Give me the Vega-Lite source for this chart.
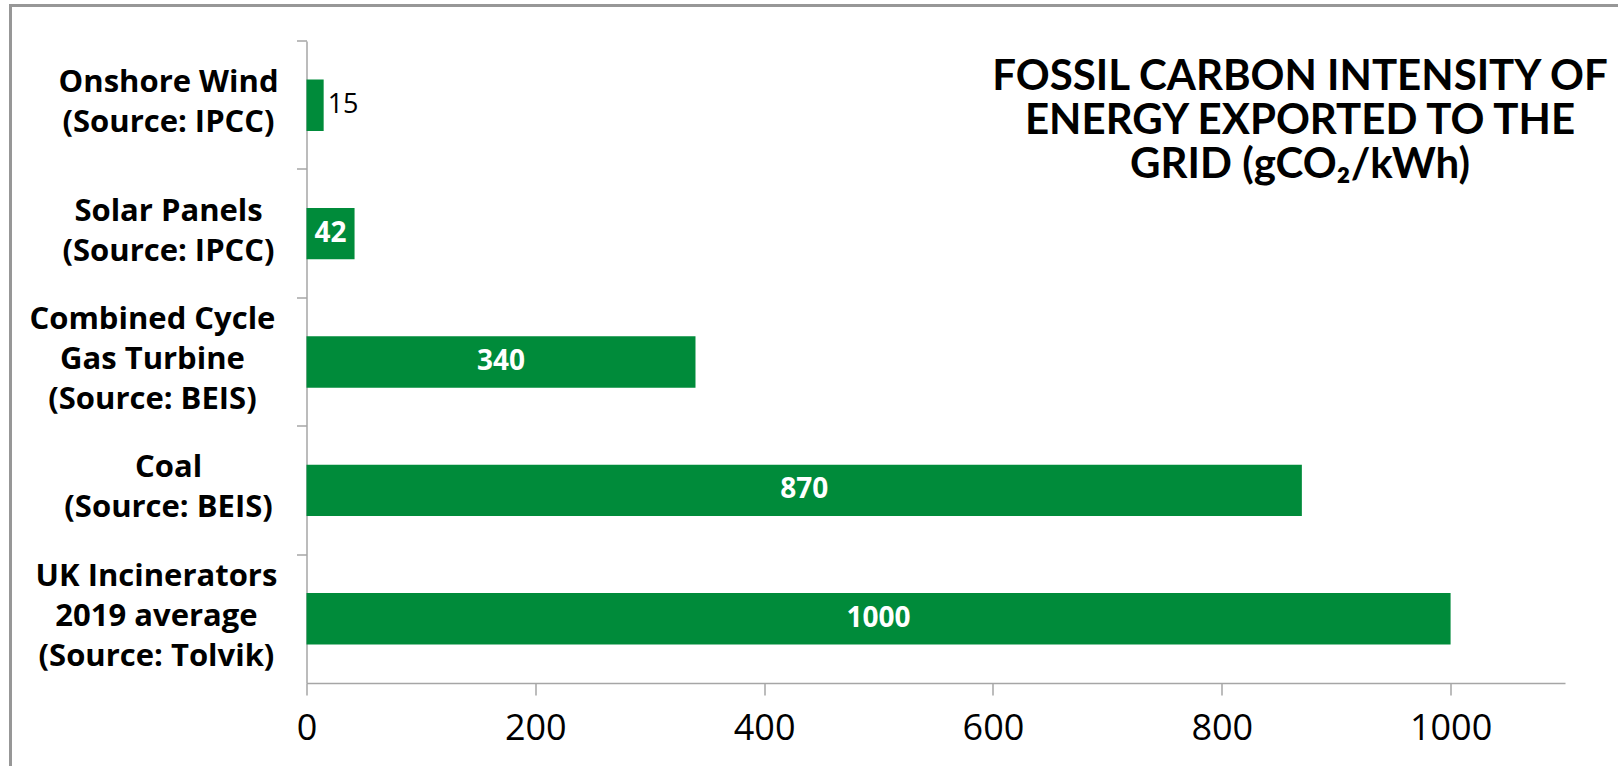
{
  "$schema": "https://vega.github.io/schema/vega-lite/v6.json",
  "width": 1610.5,
  "height": 763.5,
  "autosize": {"type": "none"},
  "padding": {"left": 10.5, "top": 5.5, "right": -3, "bottom": -3},
  "background": "white",
  "config": {
    "view": {"stroke": "#979797", "strokeWidth": 3},
    "font": "Open Sans"
  },
  "title": {
    "text": ["FOSSIL CARBON INTENSITY OF", "ENERGY EXPORTED TO THE", "GRID (gCO₂/kWh)"],
    "frame": "group",
    "anchor": "start",
    "align": "center",
    "dx": 1289.5,
    "offset": -181,
    "baseline": "top",
    "font": "Lato",
    "fontSize": 42,
    "fontWeight": "bold",
    "color": "black",
    "lineHeight": 44
  },
  "data": {
    "values": [
      {"source": "Onshore Wind|(Source: IPCC)", "value": 15},
      {"source": "Solar Panels|(Source: IPCC)", "value": 42},
      {"source": "Combined Cycle|Gas Turbine|(Source: BEIS)", "value": 340},
      {"source": "Coal|(Source: BEIS)", "value": 870},
      {"source": "UK Incinerators|2019 average|(Source: Tolvik)", "value": 1000}
    ]
  },
  "encoding": {
    "y": {
      "field": "source",
      "type": "nominal",
      "sort": null,
      "scale": {"range": [35.5, 677.5], "paddingInner": 0.6, "paddingOuter": 0.3},
      "axis": {
        "title": null,
        "offset": -296,
        "bandPosition": -0.75,
        "tickSize": 10,
        "tickWidth": 1.5,
        "tickColor": "#a6a6a6",
        "domainColor": "#a6a6a6",
        "domainWidth": 1.5,
        "labelExpr": "length(split(datum.label, '|')) == 2 ? ['\u200b', (indexof(datum.label, 'Onshore') == 0 || indexof(datum.label, 'Solar') == 0 || indexof(datum.label, 'Coal') == 0 ? '\u200b\u00a0\u00a0' : '') + split(datum.label, '|')[0] + (indexof(datum.label, 'Combined') == 0 ? '\u00a0\u00a0\u200b' : indexof(datum.label, 'UK') == 0 ? '\u00a0\u200b' : ''), '\u200b', (indexof(datum.label, 'Onshore') == 0 || indexof(datum.label, 'Solar') == 0 || indexof(datum.label, 'Coal') == 0 ? '\u200b\u00a0\u00a0' : '') + split(datum.label, '|')[1] + (indexof(datum.label, 'Combined') == 0 ? '\u00a0\u00a0\u200b' : indexof(datum.label, 'UK') == 0 ? '\u00a0\u200b' : '')] : [(indexof(datum.label, 'Onshore') == 0 || indexof(datum.label, 'Solar') == 0 || indexof(datum.label, 'Coal') == 0 ? '\u200b\u00a0\u00a0' : '') + split(datum.label, '|')[0] + (indexof(datum.label, 'Combined') == 0 ? '\u00a0\u00a0\u200b' : indexof(datum.label, 'UK') == 0 ? '\u00a0\u200b' : ''), '\u200b', (indexof(datum.label, 'Onshore') == 0 || indexof(datum.label, 'Solar') == 0 || indexof(datum.label, 'Coal') == 0 ? '\u200b\u00a0\u00a0' : '') + split(datum.label, '|')[1] + (indexof(datum.label, 'Combined') == 0 ? '\u00a0\u00a0\u200b' : indexof(datum.label, 'UK') == 0 ? '\u00a0\u200b' : ''), '\u200b', (indexof(datum.label, 'Onshore') == 0 || indexof(datum.label, 'Solar') == 0 || indexof(datum.label, 'Coal') == 0 ? '\u200b\u00a0\u00a0' : '') + split(datum.label, '|')[2] + (indexof(datum.label, 'Combined') == 0 ? '\u00a0\u00a0\u200b' : indexof(datum.label, 'UK') == 0 ? '\u00a0\u200b' : '')]",
        "labelAlign": "center",
        "labelBaseline": "middle",
        "labelFont": "Open Sans",
        "labelFontWeight": "bold",
        "labelFontSize": 31,
        "labelLineHeight": 20,
        "labelOffset": -42,
        "labelColor": "black",
        "labelLimit": 500,
        "labelPadding": 136.5
      }
    }
  },
  "layer": [
    {
      "mark": {"type": "bar", "color": "#008b3a"},
      "encoding": {
        "x": {
          "field": "value",
          "type": "quantitative",
          "scale": {"domain": [0, 1100], "range": [296, 1554.5], "nice": false, "zero": true},
          "axis": {
            "title": null,
            "values": [0, 200, 400, 600, 800, 1000],
            "format": "d",
            "offset": -86,
            "grid": false,
            "tickSize": 12,
            "tickWidth": 1.5,
            "tickColor": "#a6a6a6",
            "domainColor": "#a6a6a6",
            "domainWidth": 1.5,
            "labelFont": "Open Sans",
            "labelFontSize": 36,
            "labelPadding": 16,
            "labelColor": "black",
            "labelFlush": false
          }
        }
      }
    },
    {
      "transform": [
        {"filter": "datum.value >= 20"},
        {"calculate": "datum.value / 2", "as": "mid"}
      ],
      "mark": {"type": "text", "color": "white", "font": "Open Sans", "fontWeight": "bold", "fontSize": 28, "baseline": "middle"},
      "encoding": {
        "x": {"field": "mid", "type": "quantitative"},
        "text": {"field": "value", "type": "quantitative"}
      }
    },
    {
      "transform": [{"filter": "datum.value < 20"}],
      "mark": {"type": "text", "color": "black", "font": "Open Sans", "fontSize": 27, "align": "left", "dx": 4, "baseline": "middle"},
      "encoding": {
        "x": {"field": "value", "type": "quantitative"},
        "text": {"field": "value", "type": "quantitative"}
      }
    }
  ]
}
